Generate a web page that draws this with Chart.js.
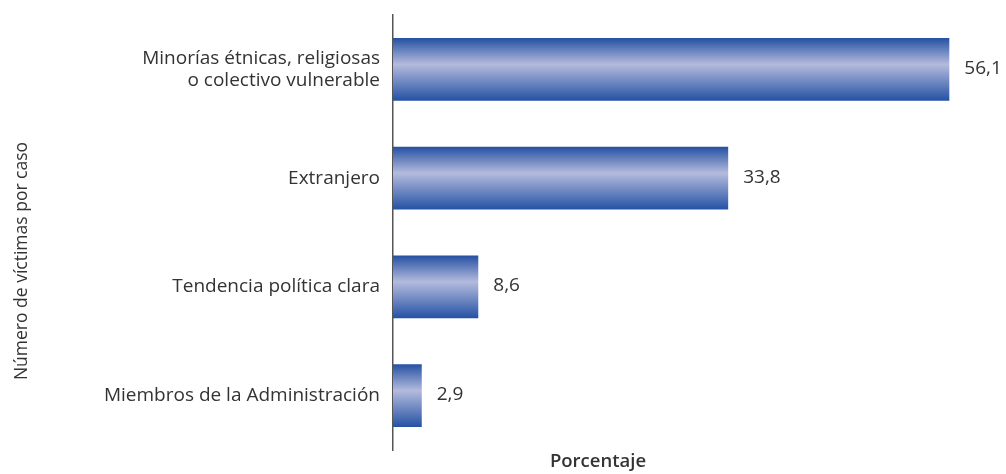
<!DOCTYPE html>
<html>
<head>
<meta charset="utf-8">
<script src="https://cdn.jsdelivr.net/npm/chart.js@4"></script>
<style>
  html, body { margin: 0; padding: 0; background: #fff; }
  #wrap { width: 1006px; height: 474px; }
</style>
</head>
<body>
<div id="wrap"><canvas id="myChart"></canvas></div>
<script>
var categories = [
    ['Minorías étnicas, religiosas', 'o colectivo vulnerable'],
    'Extranjero',
    'Tendencia política clara',
    'Miembros de la Administración'
]
var porcentajes = [56.1, 33.8, 8.6, 2.9]
var axisTitleX = 'Porcentaje'
var axisTitleY = 'Número de víctimas por caso'

var fontFamily = "'Open Sans', sans-serif"
var textColor = '#333333'

// gradiente vertical de cada barra (oscuro en bordes, claro en el centro)
var barGradient = {
    id: 'barGradient',
    beforeDatasetsDraw: function (chart) {
        var c = chart.ctx
        chart.getDatasetMeta(0).data.forEach(function (bar) {
            var top = bar.y - bar.height / 2
            var bottom = bar.y + bar.height / 2
            var g = c.createLinearGradient(0, top, 0, bottom)
            g.addColorStop(0, '#2450a2')
            g.addColorStop(0.42, '#b4bbdd')
            g.addColorStop(1, '#2451a4')
            bar.options = Object.assign({}, bar.options, { backgroundColor: g })
        })
    }
}

// valores al final de cada barra y títulos de ejes
var valueLabels = {
    id: 'valueLabels',
    afterDatasetsDraw: function (chart) {
        var c = chart.ctx
        c.save()
        c.fillStyle = textColor
        c.font = '19px ' + fontFamily
        c.textBaseline = 'middle'
        c.textAlign = 'left'
        chart.getDatasetMeta(0).data.forEach(function (bar, i) {
            c.fillText(porcentajes[i].toFixed(1).replace('.', ','), bar.x + 15, bar.y - 1)
        })
        c.font = '600 18.5px ' + fontFamily
        c.textAlign = 'center'
        c.fillText(axisTitleX, 598, 462)
        c.save()
        c.translate(22, 261)
        c.rotate(-Math.PI / 2)
        c.font = '17.5px ' + fontFamily
        c.fillText(axisTitleY, 0, 0)
        c.restore()
        c.restore()
    }
}

var ctx = document.getElementById('myChart')

new Chart(ctx, {
    type: 'bar',
    data: {
        labels: categories,
        datasets: [{
            data: porcentajes,
            backgroundColor: '#2450a2',
            borderWidth: 0,
            categoryPercentage: 1,
            barPercentage: 0.578
        }]
    },
    options: {
        indexAxis: 'y',
        responsive: true,
        maintainAspectRatio: false,
        animation: false,
        layout: { padding: { top: 15, bottom: 24, right: 18, left: 0 } },
        plugins: {
            legend: { display: false },
            tooltip: { enabled: false }
        },
        scales: {
            x: {
                display: false,
                min: 0,
                max: 60
            },
            y: {
                afterFit: function (scale) {
                    scale.width = 393
                    scale.paddingTop = 0
                    scale.paddingBottom = 0
                },
                grid: { display: false, drawTicks: false },
                border: { display: true, color: '#555555', width: 1.5 },
                ticks: {
                    padding: 13,
                    color: textColor,
                    font: { family: fontFamily, size: 19, lineHeight: 1.16 }
                }
            }
        }
    },
    plugins: [barGradient, valueLabels]
})
</script>
</body>
</html>
